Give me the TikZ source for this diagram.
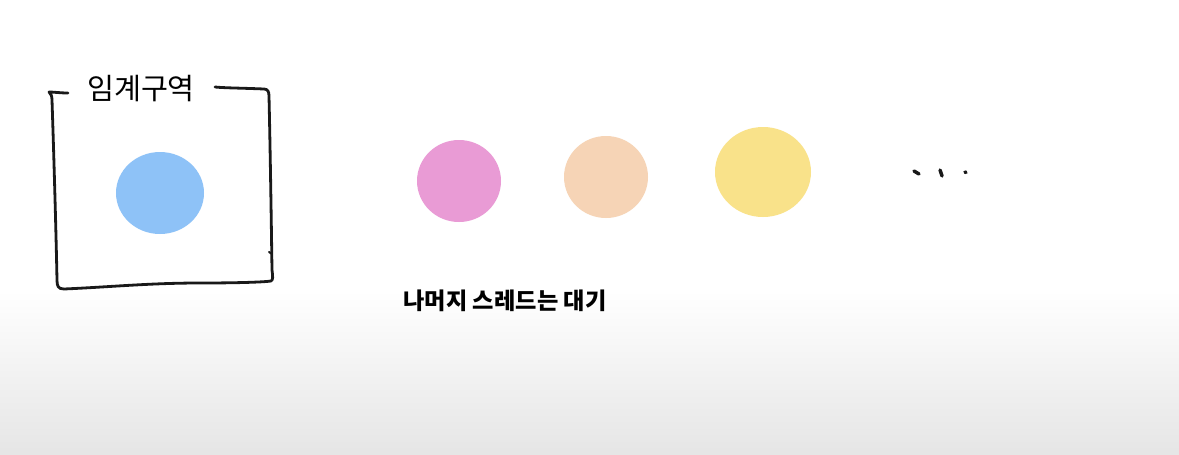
\documentclass[tikz,border=0pt]{standalone}
\usepackage{fontspec}
\newfontfamily\kr{Noto Sans CJK KR}
\definecolor{cblue}{HTML}{8EC2F7}
\definecolor{cpink}{HTML}{E99BD5}
\definecolor{cpeach}{HTML}{F6D4B6}
\definecolor{cyellow}{HTML}{F9E28A}
\tikzset{
  hand/.style={line width=2.1pt, line cap=round, line join=round, black!90},
  tick/.style={line width=2.6pt, line cap=round, black!90},
}
\begin{document}
\begin{tikzpicture}[x=0.75pt,y=-0.75pt]
\useasboundingbox (0,0) rectangle (1179,454);
\fill[white] (0,0) rectangle (1179,454);
\shade[top color=white, bottom color=gray!20] (0,290) rectangle (1179,454);
% hand-drawn box
\draw[hand] (68,93) .. controls (60,93) and (54,92) .. (49,92)
  .. controls (51,94) and (52,96) .. (52,100)
  .. controls (54,160) and (56,230) .. (57,280)
  .. controls (57,286) and (58,289) .. (64,289)
  .. controls (110,287) and (150,283) .. (200,283)
  .. controls (240,283) and (265,282) .. (271,281)
  .. controls (273,280) and (273,277) .. (272,270)
  .. controls (271,200) and (270,140) .. (269,96)
  .. controls (269,92) and (268,89) .. (264,89)
  .. controls (240,88) and (225,88) .. (215,87);
\draw[hand, line width=1.5pt] (269,252) -- (272,254);
\node[font=\kr\fontsize{22}{24}\selectfont, inner sep=0pt] (label) at (141,89) {임계구역};
% threads
\fill[cblue] (160,193) ellipse [x radius=44, y radius=41];
\node[inner sep=0pt] (t1) at (160,193) {};
\fill[cpink] (459,181) ellipse [x radius=42, y radius=41];
\node[inner sep=0pt] (t2) at (459,181) {};
\fill[cpeach] (606,177) ellipse [x radius=42, y radius=41];
\node[inner sep=0pt] (t3) at (606,177) {};
\fill[cyellow] (763,172) ellipse [x radius=48, y radius=45];
\node[inner sep=0pt] (t4) at (763,172) {};
% dots
\draw[tick] (914,171) -- (919,174);
\draw[tick] (940,170) -- (942,176);
\draw[tick] (965,172) -- (966,172.5);
\node[font=\kr\bfseries\fontsize{17.4}{19}\selectfont, inner sep=0pt] (wait) at (505,301) {나머지 스레드는 대기};
\end{tikzpicture}
\end{document}
